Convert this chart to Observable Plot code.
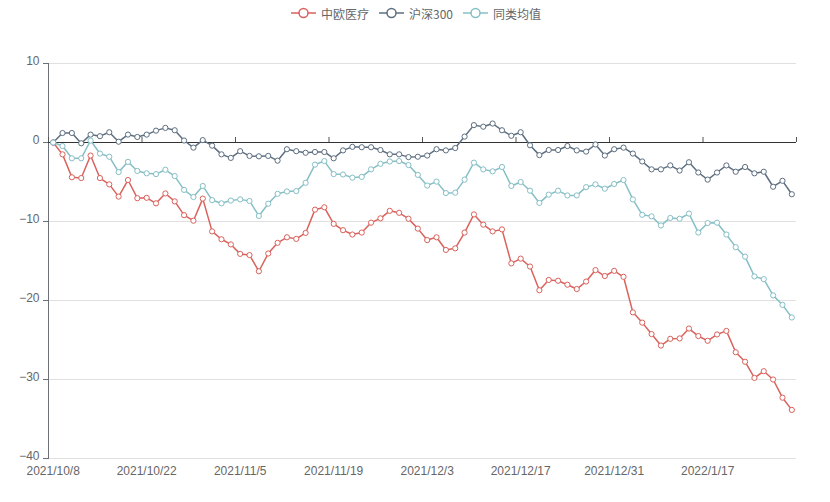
<!DOCTYPE html>
<html>
<head>
<meta charset="utf-8">
<script src="https://cdn.jsdelivr.net/npm/d3@7"></script>
<script src="https://cdn.jsdelivr.net/npm/@observablehq/plot@0.6"></script>
<style>
  body { margin: 0; background: #fff; font-family: "Noto Sans CJK SC", "Noto Sans", sans-serif; }
  #wrap { position: relative; width: 830px; height: 502px; }
  #legend { position: absolute; top: 3px; left: 291px; height: 20px; display: flex; align-items: center; font-size: 12px; color: #666; }
  .item { display: flex; align-items: center; margin-right: 10px; }
  .item svg { margin-right: 5px; }
  #chart { position: absolute; top: 24px; left: 0; }
</style>
</head>
<body>
<div id="wrap">
  <div id="legend"></div>
  <div id="chart"></div>
</div>
<script>
const dates = [
  "2021/10/8","2021/10/11","2021/10/12","2021/10/13","2021/10/14","2021/10/15","2021/10/18","2021/10/19","2021/10/20","2021/10/21",
  "2021/10/22","2021/10/25","2021/10/26","2021/10/27","2021/10/28","2021/10/29","2021/11/1","2021/11/2","2021/11/3","2021/11/4",
  "2021/11/5","2021/11/8","2021/11/9","2021/11/10","2021/11/11","2021/11/12","2021/11/15","2021/11/16","2021/11/17","2021/11/18",
  "2021/11/19","2021/11/22","2021/11/23","2021/11/24","2021/11/25","2021/11/26","2021/11/29","2021/11/30","2021/12/1","2021/12/2",
  "2021/12/3","2021/12/6","2021/12/7","2021/12/8","2021/12/9","2021/12/10","2021/12/13","2021/12/14","2021/12/15","2021/12/16",
  "2021/12/17","2021/12/20","2021/12/21","2021/12/22","2021/12/23","2021/12/24","2021/12/27","2021/12/28","2021/12/29","2021/12/30",
  "2021/12/31","2022/1/4","2022/1/5","2022/1/6","2022/1/7","2022/1/10","2022/1/11","2022/1/12","2022/1/13","2022/1/14",
  "2022/1/17","2022/1/18","2022/1/19","2022/1/20","2022/1/21","2022/1/24","2022/1/25","2022/1/26","2022/1/27","2022/1/28"
];
const zhongou = [
  0,-1.5,-4.4,-4.5,-1.65,-4.5,-5.3,-6.85,-4.75,-7.05,
  -7.0,-7.7,-6.45,-7.45,-9.2,-9.9,-7.1,-11.25,-12.25,-12.9,
  -14.1,-14.25,-16.3,-14.05,-12.7,-12.0,-12.2,-11.45,-8.5,-8.2,
  -10.3,-11.1,-11.65,-11.4,-10.15,-9.6,-8.65,-8.9,-9.65,-10.9,
  -12.35,-12.0,-13.6,-13.4,-11.4,-9.1,-10.4,-11.25,-11.0,-15.3,
  -14.7,-15.7,-18.7,-17.4,-17.5,-18.0,-18.55,-17.6,-16.15,-16.9,
  -16.25,-17.0,-21.5,-22.8,-24.25,-25.7,-24.85,-24.8,-23.55,-24.5,
  -25.1,-24.3,-23.85,-26.55,-27.75,-29.8,-28.95,-30.0,-32.3,-33.85
];
const hs300 = [
  0,1.2,1.2,-0.1,1.0,0.8,1.3,0.1,1.0,0.7,
  1.0,1.5,1.85,1.55,0.25,-0.65,0.3,-0.4,-1.5,-1.95,
  -1.1,-1.7,-1.75,-1.7,-2.3,-0.85,-1.1,-1.3,-1.2,-1.2,
  -2.0,-1.0,-0.55,-0.6,-0.6,-0.95,-1.5,-1.5,-1.85,-1.8,
  -1.65,-0.85,-1.0,-0.7,0.75,2.2,2.0,2.4,1.55,0.85,
  1.3,-0.35,-1.6,-0.95,-0.95,-0.45,-1.0,-1.15,-0.25,-1.65,
  -0.85,-0.65,-1.4,-2.4,-3.4,-3.4,-2.9,-3.55,-2.5,-3.8,
  -4.7,-3.8,-2.9,-3.7,-3.1,-3.9,-3.7,-5.6,-4.85,-6.55
];
const peers = [
  0,-0.45,-2.0,-2.0,0.25,-1.4,-1.8,-3.75,-2.45,-3.6,
  -3.9,-4.0,-3.45,-4.25,-6.0,-6.9,-5.5,-7.3,-7.7,-7.35,
  -7.2,-7.4,-9.3,-7.75,-6.5,-6.2,-6.15,-5.1,-2.8,-2.35,
  -4.0,-4.05,-4.45,-4.35,-3.4,-2.7,-2.4,-2.35,-2.85,-4.1,
  -5.45,-4.95,-6.4,-6.35,-4.7,-2.55,-3.4,-3.65,-3.1,-5.5,
  -5.0,-6.1,-7.65,-6.6,-6.1,-6.7,-6.7,-5.65,-5.3,-5.85,
  -5.25,-4.75,-7.2,-9.15,-9.35,-10.5,-9.55,-9.65,-9.0,-11.4,
  -10.2,-10.15,-11.65,-13.25,-14.45,-16.95,-17.3,-19.35,-20.55,-22.15
];
const seriesNames = ["中欧医疗", "沪深300", "同类均值"];
const seriesColors = ["#d9625c", "#5d6e80", "#86bfc6"];
const yTicks = [10, 0, -10, -20, -30, -40];
const labelEvery = 10;

const seriesValues = [zhongou, hs300, peers];
const data = [];
seriesValues.forEach((vals, s) => vals.forEach((v, i) => data.push({i, v, s: seriesNames[s]})));
const labelIdx = dates.map((d, i) => i).filter(i => i % labelEvery === 0);
const boundaries = d3.range(0, dates.length + 1, labelEvery).map(b => b - 0.5);
const grid = yTicks.filter(t => t !== 0);
const tickFont = "'Liberation Sans', Arial, sans-serif";

const chart = Plot.plot({
  width: 830,
  height: 478,
  marginLeft: 48,
  marginRight: 34,
  marginTop: 39,
  marginBottom: 44,
  style: {fontFamily: "'Noto Sans CJK SC', 'Noto Sans', sans-serif", fontSize: "12px", color: "#666", background: "#fff"},
  x: {type: "linear", domain: [-0.5, dates.length - 0.5], axis: null},
  y: {domain: [-40, 10]},
  color: {domain: seriesNames, range: seriesColors},
  marks: [
    Plot.ruleY(grid, {stroke: "#e0e0e0", strokeWidth: 1}),
    Plot.frame({anchor: "left", stroke: "#6e7079"}),
    Plot.axisY({ticks: yTicks, tickSize: 5, tickFormat: () => "", stroke: "#6e7079", label: null}),
    Plot.axisY({ticks: yTicks, tickSize: 0, tickPadding: 9, fill: "#666", label: null, fontSize: 12, fontFamily: tickFont, dy: -2}),
    Plot.text(labelIdx, {x: d => d, text: i => dates[i], frameAnchor: "bottom", lineAnchor: "top", dy: 8, fill: "#666", fontSize: 12, fontFamily: tickFont}),
    Plot.ruleY([0], {stroke: "#333", strokeWidth: 1}),
    Plot.ruleX(boundaries, {x: d => d, y1: 0, y2: 0, insetTop: -5, stroke: "#555", strokeWidth: 1}),
    Plot.line(data, {x: "i", y: "v", z: "s", stroke: "s", strokeWidth: 1.5}),
    Plot.dot(data, {x: "i", y: "v", stroke: "s", fill: "#fff", r: 2.6, strokeWidth: 1})
  ]
});
document.getElementById("chart").appendChild(chart);

const legend = document.getElementById("legend");
seriesNames.forEach((name, k) => {
  const item = document.createElement("div");
  item.className = "item";
  item.innerHTML = `<svg width="25" height="14"><line x1="0" y1="7" x2="25" y2="7" stroke="${seriesColors[k]}" stroke-width="1.5"/><circle cx="12.5" cy="7" r="4.5" fill="#fff" stroke="${seriesColors[k]}" stroke-width="1.5"/></svg><span>${name}</span>`;
  legend.appendChild(item);
});
</script>
</body>
</html>
